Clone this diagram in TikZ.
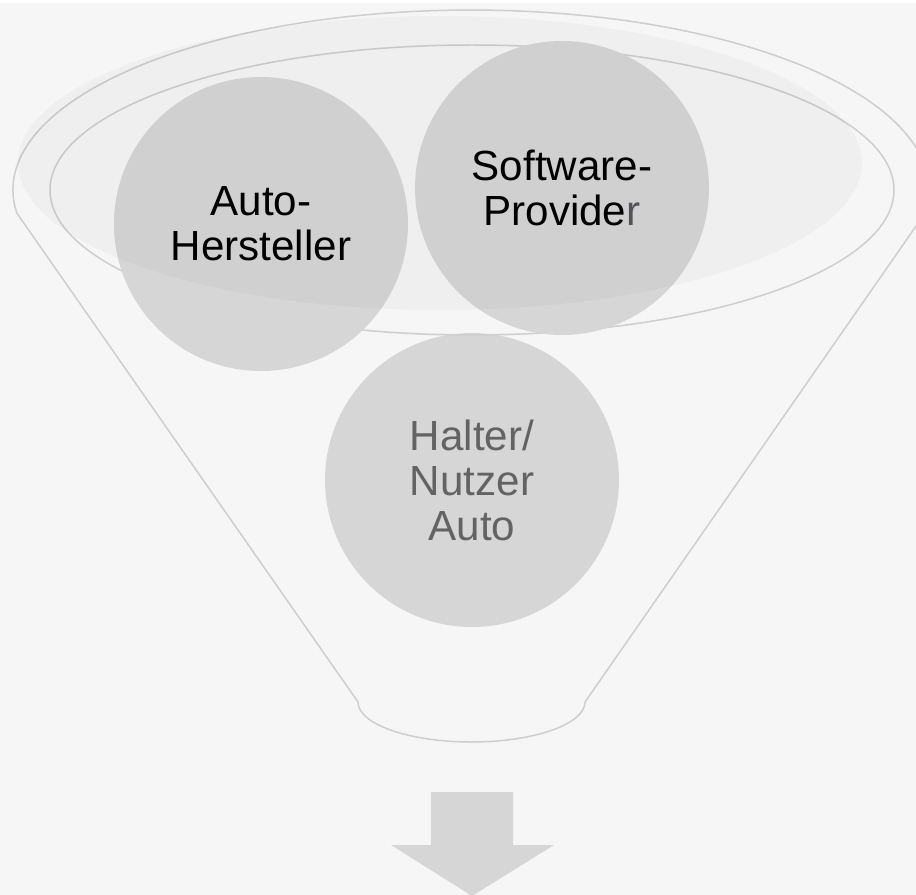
\documentclass[tikz,border=0pt]{standalone}
\usepackage{fontspec}
\setmainfont{Liberation Sans}
\usepackage{tikz}
\usetikzlibrary{positioning}

\definecolor{bgcol}{RGB}{246,246,246}
\definecolor{rimcol}{RGB}{206,206,206}
\definecolor{ballcol}{RGB}{214,214,214}
\definecolor{usertext}{RGB}{99,99,99}
\definecolor{lastr}{RGB}{85,85,90}

\begin{document}
\begin{tikzpicture}[x=0.02cm, y=-0.02cm,
    every node/.style = {align=center, font=\fontsize{24}{25.6}\selectfont},
    ball/.style = {shape=circle, fill=ballcol, minimum size=5.88cm, inner sep=0pt},
    rim/.style = {draw=rimcol, line width=0.85pt}]
  \useasboundingbox (0,0) rectangle (916,895);
  \fill[bgcol] (0,3) rectangle (916,895);
  % lowest ball sits below the rim
  \node[ball, text=usertext] (user) at (472,480) {Halter/\\Nutzer\\Auto};
  % funnel
  \draw[rim] (472,190) ellipse [x radius=422, y radius=145];
  \draw[rim] (16.7,212.9) arc [start angle=172.7, end angle=367.3, x radius=458, y radius=180]
    -- (585,702) arc [start angle=0, end angle=180, x radius=113.5, y radius=40] -- cycle;
  % upper balls
  \node[ball] (maker) at (261,224) {Auto-\\Hersteller};
  \node[ball] (soft) at (562,188) {Software-\\Provide\textcolor{lastr}{r}};
  \fill[black, opacity=0.028] (440,163) ellipse [x radius=422, y radius=147];
  % arrow
  \fill[ballcol] (431,792) -- (513,792) -- (513,845) -- (554,845) -- (472,896)
    -- (391,845) -- (431,845) -- cycle;
\end{tikzpicture}
\end{document}
